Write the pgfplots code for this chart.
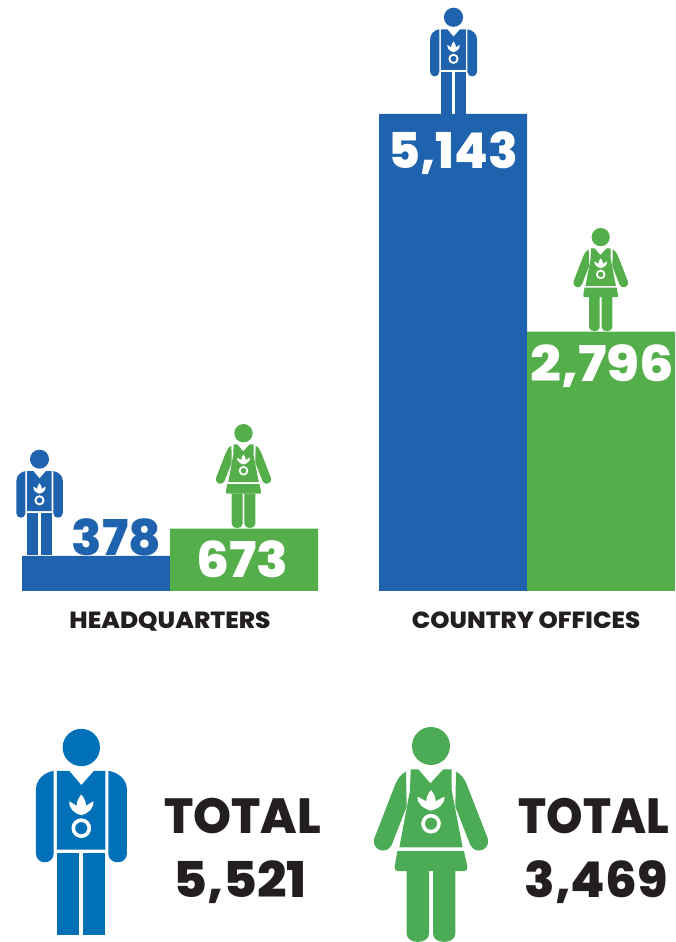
\documentclass[border=0pt]{standalone}
\usepackage{pgfplots}
\usepackage{fontspec}
\pgfplotsset{compat=1.18}
\setmainfont{Poppins}[BoldFont=Poppins ExtraBold]
\definecolor{barblue}{HTML}{1F62AE}
\definecolor{bargreen}{HTML}{54AE4A}
\definecolor{bigblue}{HTML}{0070B8}
\definecolor{biggreen}{HTML}{4CAB55}
\definecolor{ink}{HTML}{231F20}
\pgfplotstableread{
x v
96 378
453 5143
}\menbars
\pgfplotstableread{
x v
244 673
601 2796
}\womenbars
\newcommand{\emblem}[3]{%
  \fill[white] (0,#1) .. controls (8,#1+10) and (14,#1+20) .. (14,#1+34) -- (#2,#1+20)
    .. controls (#2+2,#1+42) and (22,#1+56) .. (0,#1+62)
    .. controls (-22,#1+56) and (-#2-2,#1+42) .. (-#2,#1+20) -- (-14,#1+34)
    .. controls (-14,#1+20) and (-8,#1+10) .. (0,#1) -- cycle;
  \draw[white,line width=#3*2.7pt] (0,#1+101) circle[radius=24];
}
\newcommand{\maleicon}[4]{%
\begin{scope}[shift={(#1*0.75pt,-#2*0.75pt)},x=#3*0.25pt,y=-#3*0.25pt]
  \fill[#4] (0,54) circle[radius=56];
  \fill[#4] (-73,124) -- (-36,124) -- (0,167) -- (38,124) -- (72,124) -- (72,360) -- (-73,360) -- cycle;
  \fill[#4] (-83,124) -- (-83,372) .. controls (-83,407) and (-136,407) .. (-136,372) -- (-136,180) .. controls (-136,150) and (-110,128) .. (-83,124) -- cycle;
  \fill[#4] (81,124) -- (81,372) .. controls (81,407) and (137,407) .. (137,372) -- (137,180) .. controls (137,150) and (110,128) .. (81,124) -- cycle;
  \fill[#4] (-73,370) rectangle (-6,617);
  \fill[#4] (6,370) rectangle (72,617);
  \emblem{195}{36}{#3}
\end{scope}}
\newcommand{\femaleicon}[4]{%
\begin{scope}[shift={(#1*0.75pt,-#2*0.75pt)},x=#3*0.25pt,y=-#3*0.25pt]
  \fill[#4] (0,57) circle[radius=57];
  \fill[#4] (-61,127) -- (-38,127) -- (-2,169) -- (37,127) -- (62,127) -- (62,190) -- (95,361) -- (-95,361) -- (-63,190) -- cycle;
  \foreach \s in {-1,1}{
  \fill[#4] (\s*75,134) .. controls (\s*90,140) and (\s*100,155) .. (\s*108,174) -- (\s*170,334) .. controls (\s*178,360) and (\s*150,380) .. (\s*128,366) -- (\s*118,354) -- (\s*73,239) -- cycle;}
  \fill[#4] (-101,372) -- (99,372) -- (109,419) .. controls (110,428) and (106,432) .. (100,432) -- (-100,432) .. controls (-106,432) and (-110,428) .. (-109,419) -- cycle;
  \fill[#4] (-73,432) -- (-6,432) -- (-6,620) .. controls (-6,653) and (-73,653) .. (-73,620) -- cycle;
  \fill[#4] (6,432) -- (73,432) -- (73,620) .. controls (73,653) and (6,653) .. (6,620) -- cycle;
  \emblem{189}{40}{#3}
\end{scope}}
\newcommand{\lab}[6]{% x, baseline y, size, xscale, colour, text
  \node[anchor=base,inner sep=0pt,text=#5,xscale=#4] at (#1*0.75pt,-#2*0.75pt) {\fontsize{#3}{#3}\selectfont\bfseries #6};}
\begin{document}
\begin{tikzpicture}
\useasboundingbox (0,0) rectangle (506.25pt,-706.5pt);
\maleicon{39.5}{450}{0.51}{barblue}
\femaleicon{243.5}{424}{0.484}{bargreen}
\maleicon{453.5}{8}{0.515}{barblue}
\femaleicon{600.7}{228}{0.48}{bargreen}
\maleicon{81.3}{729.5}{1}{bigblue}
\femaleicon{431}{727}{1}{biggreen}
\begin{axis}[
  at={(0,0)},anchor=north west,
  scale only axis,width=506.25pt,height=706.5pt,
  axis lines=none,
  xmin=0,xmax=675,ymin=-3784.4,ymax=6372,
  ybar,bar width=111pt,bar shift=0pt,
]
\addplot[fill=barblue,draw=none] table[x=x,y=v] {\menbars};
\addplot[fill=bargreen,draw=none] table[x=x,y=v] {\womenbars};
\end{axis}
\lab{453}{168}{37}{0.99}{white}{5,143}
\lab{602.5}{381}{37}{1.10}{white}{2,796}
\lab{116.5}{555}{37}{1.015}{barblue}{378}
\lab{242.5}{577}{37}{1.055}{white}{673}
\lab{170}{628}{17.5}{1.06}{ink}{HEADQUARTERS}
\lab{526}{628}{17.5}{1.05}{ink}{COUNTRY OFFICES}
\lab{242.5}{833}{37}{0.98}{ink}{TOTAL}
\lab{240}{897}{37}{1.05}{ink}{5,521}
\lab{594}{833}{37}{0.94}{ink}{TOTAL}
\lab{596}{897}{37}{1.015}{ink}{3,469}
\end{tikzpicture}
\end{document}
